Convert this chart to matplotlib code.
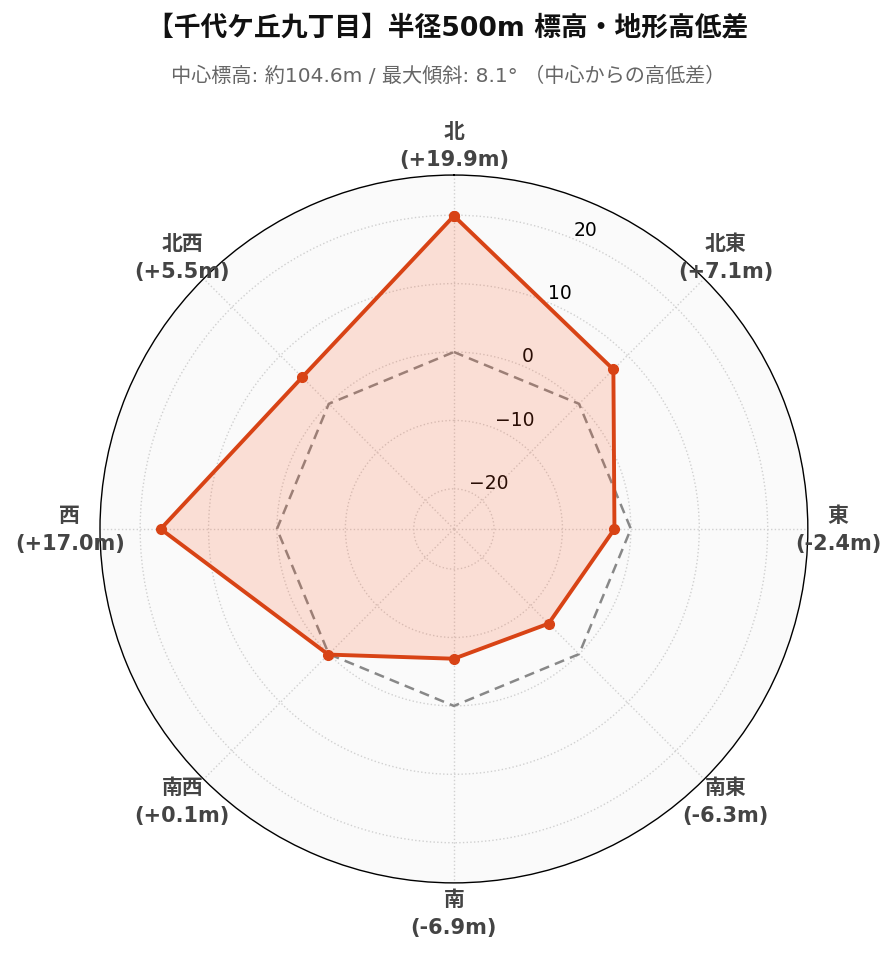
import numpy as np
import matplotlib.pyplot as plt

plt.rcParams['font.family'] = ['DejaVu Sans', 'Noto Sans CJK JP']

# 方位ごとの中心からの高低差 (m)
directions = ["北", "北東", "東", "南東", "南", "南西", "西", "北西"]
diffs = [19.9, 7.1, -2.4, -6.3, -6.9, 0.1, 17.0, 5.5]
r_ticks = [-20, -10, 0, 10, 20]

title = "【千代ケ丘九丁目】半径500m 標高・地形高低差"
subtitle = "中心標高: 約104.6m / 最大傾斜: 8.1° （中心からの高低差）"

line_color = "#D84315"

n = len(directions)
angles = np.linspace(0, 2 * np.pi, n, endpoint=False)
ang_closed = np.append(angles, angles[0])
vals_closed = np.append(diffs, diffs[0])
zero_closed = np.zeros(n + 1)

lim = max(abs(v) for v in diffs) * 1.3

fig = plt.figure(figsize=(8.96, 9.62), dpi=100)
ax = fig.add_axes([0.1116, 0.0811, 0.790, 0.736], polar=True)
ax.set_theta_zero_location("N")
ax.set_theta_direction(-1)
ax.set_ylim(-lim, lim)
ax.set_facecolor("#fafafa")

ax.plot(ang_closed, zero_closed, color="#888888", lw=1.8, ls=(0, (4, 2.5)), zorder=2)
ax.fill(ang_closed, vals_closed, color="#FF5722", alpha=0.17, lw=0, zorder=3)
ax.plot(ang_closed, vals_closed, color=line_color, lw=2.8, marker="o",
        markersize=7, zorder=4)

ax.set_xticks(angles)
ax.set_xticklabels([])
ax.set_yticks(r_ticks)
ax.tick_params(axis="y", labelsize=13.5)
ax.set_rlabel_position(22.5)
ax.grid(True, color="#d0d0d0", ls=":", lw=1.0)
ax.spines["polar"].set_color("black")
ax.spines["polar"].set_linewidth(1.0)

label_r = lim + 4.4
for a, d, v in zip(angles, directions, diffs):
    ax.text(a, label_r, f"{d}\n({v:+.1f}m)", ha="center", va="center",
            fontsize=15, fontweight="bold", color="#444444",
            linespacing=1.5, clip_on=False)

fig.text(0.5, 0.970, title, ha="center", va="center", fontsize=19.3,
         fontweight="bold", color="#111111")
fig.text(0.5, 0.921, subtitle, ha="center", va="center", fontsize=14.5,
         color="#666666")

fig.savefig("out.png", dpi=100)
